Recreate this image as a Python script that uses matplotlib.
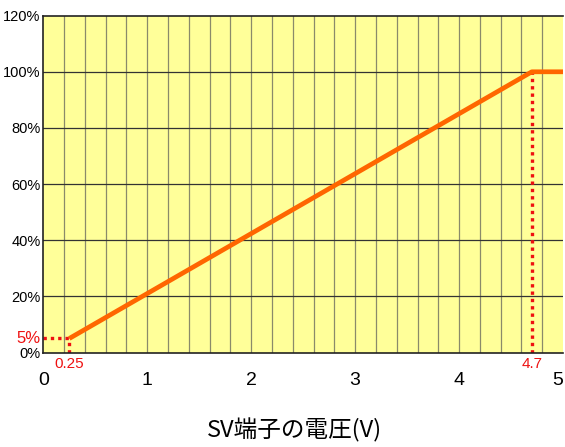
import matplotlib
matplotlib.use("Agg")
import matplotlib.pyplot as plt
from matplotlib.ticker import FuncFormatter

# data
voltage = [0.25, 4.7, 5.0]
percent = [5, 100, 100]
start_v, start_p = 0.25, 5
end_v = 4.7
y_ticks = [0, 20, 40, 60, 80, 100, 120]
x_ticks = [0, 1, 2, 3, 4, 5]
xlabel = "SV端子の電圧(V)"

narrow = ["Liberation Sans Narrow", "Liberation Sans", "DejaVu Sans"]

fig = plt.figure(figsize=(5.65, 4.47), dpi=100)
ax = fig.add_axes([0.0767, 0.2114, 0.9198, 0.7536])
ax.set_facecolor("#FFFF99")
ax.set_xlim(0, 5)
ax.set_ylim(0, 120)

# grid
for xv in [i * 0.2 for i in range(1, 25)]:
    ax.axvline(xv, color="#8a8a6a", lw=0.9, zorder=1)
for yv in y_ticks[1:-1]:
    ax.axhline(yv, color="#333333", lw=0.9, zorder=1)

ax.plot(voltage, percent, color="#FF6600", lw=3.4, solid_capstyle="butt", zorder=3)

# dotted guides
dot = (0, (1, 1.2))
ax.plot([0, start_v], [start_p, start_p], color="#EE1111", lw=2.4, ls=dot, zorder=2)
ax.plot([start_v, start_v], [0, start_p], color="#EE1111", lw=2.4, ls=dot, zorder=2)
ax.plot([end_v, end_v], [0, 100], color="#EE1111", lw=2.4, ls=dot, zorder=2)

ax.set_yticks(y_ticks)
ax.yaxis.set_major_formatter(FuncFormatter(lambda v, p: f"{int(v)}%"))
ax.set_xticks(x_ticks)
ax.tick_params(length=0)
for lab in ax.get_yticklabels():
    lab.set_family(narrow)
    lab.set_fontsize(10.5)
xl = ax.get_xticklabels()
for lab in xl:
    lab.set_family(narrow)
    lab.set_fontsize(14)
xl[-1].set_horizontalalignment("right")
ax.tick_params(axis="x", pad=14)
ax.tick_params(axis="y", pad=2)

ax.text(-0.03, start_p, "5%", color="#EE1111", ha="right", va="center",
        fontsize=12, family=narrow)
ax.text(start_v, -1.5, "0.25", color="#EE1111", ha="center", va="top",
        fontsize=11, family=narrow)
ax.text(end_v, -1.5, "4.7", color="#EE1111", ha="center", va="top",
        fontsize=11, family=narrow)

for s in ["top", "left", "bottom"]:
    ax.spines[s].set_color("#222222")
    ax.spines[s].set_linewidth(1.2)
ax.spines["right"].set_visible(False)

fig.text(0.522, 0.038, xlabel, ha="center", va="center", fontsize=17,
         family=["Noto Sans CJK JP", "DejaVu Sans"])

fig.savefig("out.png", dpi=100)
